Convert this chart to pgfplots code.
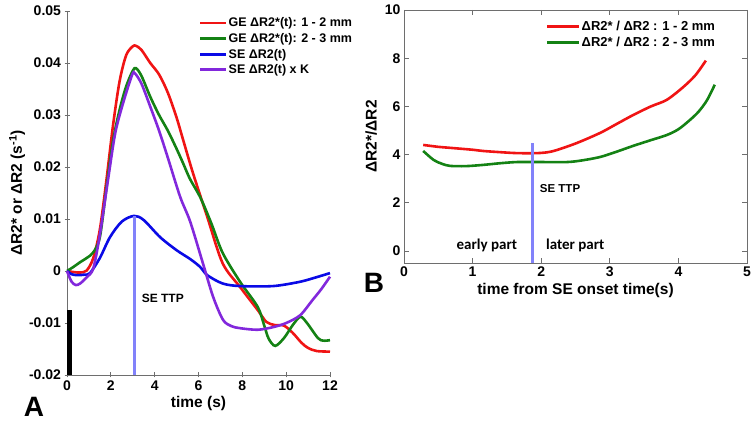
\documentclass[border=0pt]{standalone}
\usepackage{fontspec}
\setmainfont{Liberation Sans}
\newfontfamily\calib{Carlito}
\usepackage{pgfplots}
\pgfplotsset{compat=1.18}
\definecolor{cred}{RGB}{240,20,20}
\definecolor{cgreen}{RGB}{20,130,20}
\definecolor{cblue}{RGB}{10,10,230}
\definecolor{cpurple}{RGB}{130,40,220}
\definecolor{cttp}{RGB}{130,130,250}
\definecolor{caxis}{RGB}{110,110,110}
\begin{document}
\begin{tikzpicture}
\useasboundingbox (0pt,0pt) rectangle (755pt,423pt);
\pgfplotsset{
  every axis/.append style={
    scale only axis,
    /pgf/number format/assume math mode=true,
    tick align=inside,
    major tick length=5pt,
    axis line style={caxis, line width=0.9pt},
    every tick/.style={caxis, line width=0.8pt},
    ticklabel style={font=\bfseries\fontsize{14}{14}\selectfont},
    label style={font=\bfseries\fontsize{15.5}{15.5}\selectfont},
    legend cell align=left,
    legend image code/.code={\draw[#1] (0pt,0pt) -- (26pt,0pt);},
  },
}
% ---------------- Panel A ----------------
\begin{axis}[
  at={(67pt,48pt)}, anchor=south west,
  width=263pt, height=364pt,
  xmin=0, xmax=12, ymin=-0.02, ymax=0.05,
  axis lines=left, axis line style={-},
  xtick={0,2,...,12},
  ytick={-0.02,-0.01,0,0.01,0.02,0.03,0.04,0.05},
  yticklabels={-0.02,-0.01,0,0.01,0.02,0.03,0.04,0.05},
  scaled y ticks=false,
  xlabel={time (s)},
  ylabel={ΔR2* or ΔR2 (s\textsuperscript{-1})},
  xlabel style={at={(axis description cs:0.5,-0.077)}, anchor=center},
  ylabel style={at={(axis description cs:-0.19,0.5)}, anchor=center},
  legend style={at={(0.49,0.99)}, anchor=north west, draw=none, fill=none,
    font=\bfseries\fontsize{12.5}{12.5}\selectfont, row sep=3pt,
    nodes={inner sep=1pt}},
  clip=false,
]
\addplot[cred, line width=2.6pt, smooth] coordinates {
(0,0) (0.3,-0.0002) (0.6,-0.0003) (0.9,0.0001) (1.2,0.0025) (1.5,0.008)
(1.8,0.0175) (2.1,0.028) (2.4,0.0365) (2.7,0.0415) (3.0,0.0432) (3.15,0.0433)
(3.4,0.0425) (3.8,0.040) (4.2,0.0378) (4.6,0.0343) (5.0,0.0295) (5.3,0.0252)
(5.75,0.0188) (6.4,0.0104) (7.1,0.0015) (7.9,-0.0031) (8.7,-0.0075)
(9.1,-0.0098) (9.5,-0.0104) (9.9,-0.0105) (10.3,-0.0119) (10.7,-0.0138)
(11.0,-0.0148) (11.4,-0.0154) (12,-0.0155)};
\addlegendentry{GE ΔR2*(t): 1 - 2 mm}
\addplot[cgreen, line width=2.6pt, smooth] coordinates {
(0,0) (0.3,0.0008) (0.6,0.0017) (0.9,0.0025) (1.2,0.0036) (1.5,0.0065)
(1.8,0.016) (2.1,0.025) (2.4,0.031) (2.7,0.0355) (3.0,0.0385) (3.15,0.039)
(3.4,0.0375) (3.8,0.0335) (4.2,0.0300) (4.6,0.0270) (5.0,0.0235) (5.3,0.0207)
(5.6,0.0178) (6.1,0.0140) (6.6,0.0090) (7.1,0.0035) (7.9,-0.0021)
(8.7,-0.0069) (9.0,-0.0105) (9.2,-0.0130) (9.5,-0.0144) (9.9,-0.0129)
(10.3,-0.0104) (10.65,-0.0088) (10.95,-0.0100) (11.45,-0.0129)
(11.7,-0.0134) (12,-0.0133)};
\addlegendentry{GE ΔR2*(t): 2 - 3 mm}
\addplot[cblue, line width=2.6pt, smooth] coordinates {
(0,0) (0.2,-0.0006) (0.45,-0.0008) (0.8,-0.0007) (1.05,-0.0004) (1.5,0.0025)
(1.96,0.0065) (2.5,0.0095) (3.06,0.0106) (3.5,0.0098) (4.25,0.0065)
(5.0,0.0040) (5.62,0.0023) (6.07,0.0008) (6.4,-0.0008) (7.1,-0.0024)
(7.9,-0.0029) (9.4,-0.0029) (10.6,-0.0021) (11.3,-0.0013) (12,-0.0004)};
\addlegendentry{SE ΔR2(t)}
\addplot[cpurple, line width=2.6pt, smooth] coordinates {
(0,0) (0.2,-0.0020) (0.4,-0.0027) (0.6,-0.0024) (0.9,-0.0012) (1.2,0.0005)
(1.5,0.007) (1.87,0.0175) (2.2,0.0265) (2.56,0.0323) (2.97,0.0377)
(3.1,0.038) (3.4,0.036) (3.8,0.0316) (4.2,0.027) (4.6,0.0218) (5.16,0.0143)
(5.62,0.0095) (6.2,0.0015) (6.67,-0.005) (7.12,-0.0094) (7.5,-0.0106)
(7.9,-0.011) (8.7,-0.0113) (9.4,-0.0108) (10,-0.010) (10.64,-0.0085)
(11.2,-0.0056) (11.6,-0.0035) (12,-0.0011)};
\addlegendentry{SE ΔR2(t) x K}
\addplot[cttp, line width=2.5pt, forget plot] coordinates {(3.07,-0.02) (3.07,0.0106)};
\addplot[black, line width=4.5pt, forget plot] coordinates {(0.11,-0.02) (0.11,-0.0075)};
\node[anchor=west, font=\bfseries\fontsize{12}{12}\selectfont] at (axis cs:3.25,-0.0052) {SE TTP};
\end{axis}
% ---------------- Panel B ----------------
\begin{axis}[
  at={(404pt,160pt)}, anchor=south west,
  width=343pt, height=253pt,
  xmin=0, xmax=5, ymin=-0.5, ymax=10,
  xtick={0,1,...,5},
  ytick={0,2,...,10},
  xlabel={time from SE onset time(s)},
  ylabel={ΔR2*/ΔR2},
  xlabel style={at={(axis description cs:0.5,-0.107)}, anchor=center},
  ylabel style={at={(axis description cs:-0.096,0.5)}, anchor=center},
  legend style={at={(0.405,0.968)}, anchor=north west, draw=none, fill=none,
    font=\bfseries\fontsize{13}{13}\selectfont, row sep=3pt,
    nodes={inner sep=1pt}},
  legend image code/.code={\draw[#1] (0pt,0pt) -- (32pt,0pt);},
  clip=false,
]
\addplot[cred, line width=2.6pt, smooth] coordinates {
(0.28,4.40) (0.5,4.32) (0.67,4.28) (1.0,4.2) (1.15,4.15) (1.4,4.1)
(1.65,4.06) (1.94,4.06) (2.1,4.1) (2.23,4.19) (2.52,4.48) (2.86,4.9)
(3.1,5.27) (3.34,5.64) (3.6,6.0) (3.83,6.27) (4.07,6.8) (4.25,7.3) (4.40,7.9)};
\addlegendentry{ΔR2* / ΔR2 : 1 - 2 mm}
\addplot[cgreen, line width=2.6pt, smooth] coordinates {
(0.28,4.15) (0.43,3.78) (0.55,3.62) (0.67,3.53) (0.9,3.52) (1.15,3.57)
(1.4,3.64) (1.65,3.69) (2.0,3.69) (2.38,3.69) (2.6,3.76) (2.86,3.9)
(3.1,4.12) (3.34,4.36) (3.6,4.6) (3.83,4.81) (4.0,5.05) (4.17,5.44)
(4.3,5.8) (4.42,6.27) (4.53,6.9)};
\addlegendentry{ΔR2* / ΔR2 : 2 - 3 mm}
\addplot[cttp, line width=2.5pt, forget plot] coordinates {(1.87,-0.5) (1.87,4.48)};
\node[anchor=west, font=\bfseries\fontsize{11.5}{11.5}\selectfont] at (axis cs:1.93,2.6) {SE TTP};
\node[anchor=east, font=\calib\bfseries\fontsize{15}{15}\selectfont] at (axis cs:1.7,0.25) {early part};
\node[anchor=west, font=\calib\bfseries\fontsize{15}{15}\selectfont] at (axis cs:2.02,0.25) {later part};
\end{axis}
\node[font=\bfseries\fontsize{28}{28}\selectfont] at (34pt,16pt) {A};
\node[font=\bfseries\fontsize{28}{28}\selectfont] at (374pt,140pt) {B};
\end{tikzpicture}
\end{document}
